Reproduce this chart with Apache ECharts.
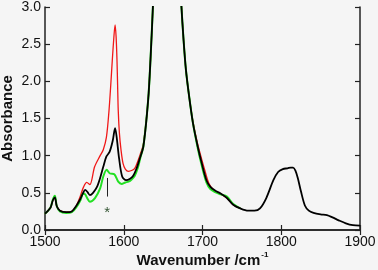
<!DOCTYPE html>
<html><head><meta charset="utf-8">
<script src="https://cdn.jsdelivr.net/npm/echarts@6/dist/echarts.min.js"></script>
<style>html,body{margin:0;padding:0;background:#f5f5f5}#c{width:378px;height:270px}</style>
</head><body><div id="c"></div>
<script>
// Black spectrum
const blackX = [1500,1503,1507,1510,1512.5,1515,1519,1527,1534,1540,1545,1548,1551,1554,1557,1561,1566,1570,1574,1578,1582,1586,1589,1591,1594,1598,1603,1608,1612,1616,1620,1625,1631,1634,1637,1641,1648,1655,1662,1669,1673,1676,1679,1683,1688,1694,1699,1705,1710,1716,1723,1731,1739,1748,1758,1766,1773,1781,1790,1796,1802,1808,1812,1815,1818,1821,1825,1830,1835,1841,1850,1858,1865,1873,1882,1891,1900];
const blackY = [0.22,0.25,0.30,0.40,0.44,0.32,0.26,0.24,0.25,0.33,0.42,0.49,0.54,0.51,0.47,0.50,0.58,0.70,0.85,0.99,1.05,1.20,1.37,1.25,0.97,0.72,0.67,0.69,0.73,0.82,0.95,1.13,1.75,2.3,3.0,4.0,5.5,6.2,5.5,3.9,3.05,2.55,2.15,1.80,1.43,1.12,0.90,0.67,0.58,0.53,0.49,0.43,0.34,0.29,0.26,0.26,0.29,0.43,0.67,0.78,0.82,0.83,0.84,0.84,0.80,0.70,0.52,0.33,0.26,0.23,0.21,0.20,0.17,0.13,0.09,0.065,0.06];
// Red spectrum (differs from black mainly 1540-1625 and ~1700)
const redX = [1500,1507,1510,1512.5,1515,1519,1527,1534,1540,1545,1549,1553,1557,1563,1570,1574,1578,1581.3,1583.5,1585.5,1587.5,1589,1590.3,1591.4,1592.2,1593,1594.5,1596.5,1599,1602,1606,1610,1614,1618,1621,1625,1631,1634,1637,1641,1648,1655,1662,1669,1673,1676,1679,1683,1688,1694,1699,1703,1708,1714,1722,1731,1739,1748];
const redY = [0.22,0.30,0.40,0.43,0.32,0.26,0.24,0.25,0.33,0.46,0.58,0.64,0.61,0.85,1.00,1.08,1.25,1.61,1.95,2.29,2.60,2.76,2.60,2.29,1.95,1.61,1.30,1.08,0.90,0.82,0.79,0.80,0.83,0.93,1.02,1.16,1.75,2.3,3.0,4.0,5.5,6.2,5.5,3.9,3.05,2.55,2.15,1.80,1.45,1.15,0.95,0.80,0.63,0.54,0.49,0.43,0.34,0.29];
// Green spectrum
const greenX = [1500,1503,1507,1510,1512.5,1515,1519,1527,1534,1540,1545,1548.5,1551,1554,1557,1563.5,1570,1574,1578.3,1582.5,1588,1593,1597.3,1602,1606,1610,1614,1618,1621,1625,1631,1634,1637,1641,1648,1655,1662,1669,1673,1676,1679,1683,1688,1694,1699,1705,1710,1716,1723,1731,1739,1748];
const greenY = [0.22,0.25,0.30,0.41,0.46,0.32,0.25,0.23,0.24,0.31,0.40,0.49,0.48,0.42,0.38,0.43,0.56,0.72,0.81,0.76,0.75,0.65,0.62,0.64,0.65,0.68,0.73,0.84,0.97,1.13,1.75,2.3,3.0,4.0,5.5,6.2,5.5,3.9,3.05,2.55,2.15,1.80,1.43,1.10,0.87,0.64,0.55,0.51,0.48,0.45,0.35,0.29];
// Annotation
const markX = 1579;
const markTop = 0.70, markBottom = 0.45, starY = 0.27;
const xTicks = [1500,1600,1700,1800,1900];
const yTicks = [0.0,0.5,1.0,1.5,2.0,2.5,3.0];

const zip = (xs, ys) => xs.map((x, i) => [x, ys[i]]);
const chart = echarts.init(document.getElementById('c'));
const font = 'Liberation Sans, Arial, Helvetica, sans-serif';
const frame = {show:true, lineStyle:{color:'#222', width:1.5}};
const tickIn = {show:true, inside:true, length:5, lineStyle:{color:'#222', width:1.2}};
const lineS = (name, data, color, width, z) => ({
  name, type:'line', data, showSymbol:false, symbol:'none', smooth:0.3,
  clip:true, z, lineStyle:{color, width}, itemStyle:{color}, animation:false
});
chart.setOption({
  backgroundColor:'#f5f5f5',
  animation:false,
  grid:{left:45, right:18, top:7, bottom:40, containLabel:false, outerBoundsMode:'none'},
  xAxis:[
    {type:'value', min:xTicks[0], max:xTicks[xTicks.length-1], interval:100, position:'bottom',
     axisLine:frame, axisTick:tickIn, splitLine:{show:false},
     axisLabel:{color:'#111', fontSize:14, fontFamily:font, margin:5, formatter:v=>String(v)},
     name:'{a|Wavenumber /cm}{s|-1}', nameLocation:'middle', nameGap:21, nameMoveOverlap:false,
     nameTextStyle:{rich:{
       a:{fontSize:15, fontWeight:'bold', fontFamily:font, color:'#111'},
       s:{fontSize:8, fontWeight:'bold', fontFamily:font, color:'#111', padding:[0,0,12,1]}
     }}},
    {type:'value', min:xTicks[0], max:xTicks[xTicks.length-1], interval:100, position:'top',
     axisLine:frame, axisTick:tickIn, axisLabel:{show:false}, splitLine:{show:false}}
  ],
  yAxis:[
    {type:'value', min:yTicks[0], max:yTicks[yTicks.length-1], interval:0.5, position:'left',
     axisLine:frame, axisTick:tickIn, splitLine:{show:false},
     axisLabel:{color:'#111', fontSize:14, fontFamily:font, margin:4, formatter:v=>v.toFixed(1)},
     name:'Absorbance', nameLocation:'middle', nameGap:30, nameMoveOverlap:false,
     nameTextStyle:{fontSize:15, fontWeight:'bold', fontFamily:font, color:'#111'}},
    {type:'value', min:yTicks[0], max:yTicks[yTicks.length-1], interval:0.5, position:'right',
     axisLine:frame, axisTick:tickIn, axisLabel:{show:false}, splitLine:{show:false}}
  ],
  series:[
    lineS('red', zip(redX, redY), '#f01818', 1.3, 2),
    lineS('green', zip(greenX, greenY), '#22e022', 2, 3),
    Object.assign(lineS('black', zip(blackX, blackY), '#000', 1.8, 4), {
      markLine:{silent:true, symbol:['none','none'], animation:false,
        lineStyle:{color:'#222', width:1, type:'solid'}, label:{show:false},
        data:[[{coord:[markX, markTop]},{coord:[markX, markBottom]}]]},
      markPoint:{silent:true, symbol:'circle', symbolSize:0, animation:false,
        label:{show:true, formatter:'*', color:'#335533', fontSize:15, fontFamily:font, position:'inside', offset:[0,3]},
        data:[{coord:[markX, starY]}]}
    })
  ]
});
</script></body></html>
